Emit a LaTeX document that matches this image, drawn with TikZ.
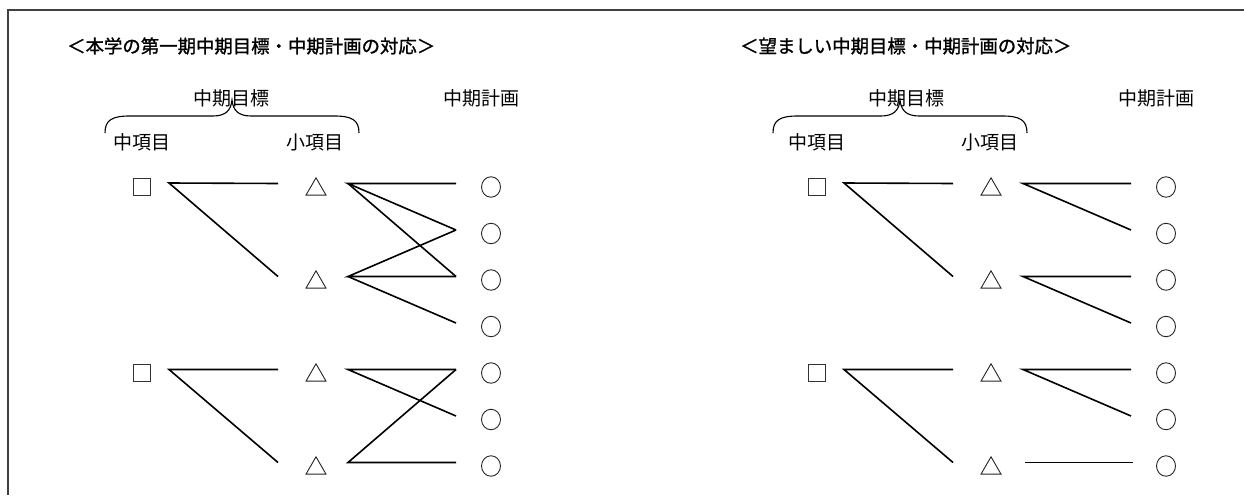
\documentclass[tikz,border=0pt]{standalone}
\usepackage{fontspec}
\setmainfont{Noto Sans CJK JP}
\newfontfamily\ttlfont[FakeBold=1.2]{Noto Sans CJK JP}
\usetikzlibrary{shapes.geometric}
\tikzset{
  frameline/.style={draw=black!75, line width=1.3pt},
  ttl/.style={anchor=west, inner sep=0pt, font=\ttlfont\fontsize{18.4pt}{20pt}\selectfont},
  lbl/.style={inner sep=0pt, font=\fontsize{19pt}{20pt}\selectfont},
  bracel/.style={draw=black, line width=1.1pt},
  sqbox/.style={draw=black!80, line width=0.9pt, rectangle, minimum size=17pt, inner sep=0pt},
  tribox/.style={draw=black!85, line width=0.9pt, regular polygon, regular polygon sides=3, minimum size=23pt, inner sep=0pt},
  cirbox/.style={draw=black!85, line width=0.9pt, ellipse, minimum width=19pt, minimum height=20.5pt, inner sep=0pt},
  link/.style={draw=black, line width=1.6pt}
}
\begin{document}
\begin{tikzpicture}[x=1pt,y=-1pt]
\useasboundingbox (0,0) rectangle (1244,495);
\fill[white] (0,0) rectangle (1244,495);
% frame
\coordinate (ftl) at (8,10);
\coordinate (ftr) at (1244,10);
\coordinate (fbl) at (8,495);
\draw[frameline] (ftr) -- (ftl) -- (fbl);
% titles
\node[ttl] (tL) at (67,46) {＜本学の第一期中期目標・中期計画の対応＞};
\node[ttl] (tR) at (740,46) {＜望ましい中期目標・中期計画の対応＞};
\foreach \p/\dx/\bx in {L/0/0,R/675/-7}{
  \begin{scope}[xshift=\dx]
    \node[lbl] (\p goal) at (231,98) {中期目標};
    \node[lbl] (\p plan) at (481,98) {中期計画};
    \node[lbl] (\p mid) at (142,142) {中項目};
    \node[lbl] (\p small) at (315,142) {小項目};
    \begin{scope}[xshift=\bx]
    \draw[bracel] (105,133) .. controls (105,120) and (112,116) .. (130,116) -- (213,116)
      .. controls (226,116) and (231,110) .. (232,100)
      .. controls (233,110) and (238,116) .. (251,116) -- (334,116)
      .. controls (352,116) and (359,120) .. (359,133);
    \end{scope}
    % squares
    \node[sqbox] (\p s1) at (141.5,186.5) {};
    \node[sqbox] (\p s2) at (141.5,373) {};
    % triangles
    \foreach \i/\y in {1/187,2/280,3/373,4/466}{
      \node[tribox] (\p t\i) at (316,\y+2.3) {};
      \coordinate (\p ti\i) at (278,\y-3.5);
      \coordinate (\p to\i) at (348,\y-3.5);
    }
    % circles
    \foreach \i/\y in {1/187,2/233.5,3/280,4/326.5,5/373,6/419.5,7/466}{
      \node[cirbox] (\p c\i) at (491,\y) {};
      \coordinate (\p ci\i) at (456,\y-3.5);
    }
    \coordinate (\p so1) at (169,183);
    \coordinate (\p so2) at (169,369.5);
  \end{scope}
}
% left panel connectors
\draw[link] (Lti1) -- (Lso1) -- (Lti2);
\draw[link] (Lti3) -- (Lso2) -- (Lti4);
\draw[link] (Lci1) -- (Lto1) -- (Lci2);
\draw[link] (Lto1) -- (Lci3);
\draw[link] (Lci2) -- (Lto2) -- (Lci3);
\draw[link] (Lto2) -- (Lci4);
\draw[link] (Lci5) -- (Lto3) -- (Lci6);
\draw[link] (Lci5) -- (Lto4) -- (Lci7);
% right panel connectors
\draw[link] (Rti1) -- (Rso1) -- (Rti2);
\draw[link] (Rti3) -- (Rso2) -- (Rti4);
\draw[link] (Rci1) -- (Rto1) -- (Rci2);
\draw[link] (Rci3) -- (Rto2) -- (Rci4);
\draw[link] (Rci5) -- (Rto3) -- (Rci6);
\draw[link] ([xshift=2pt]Rto4) -- ([xshift=2pt]Rci7);
\end{tikzpicture}
\end{document}
